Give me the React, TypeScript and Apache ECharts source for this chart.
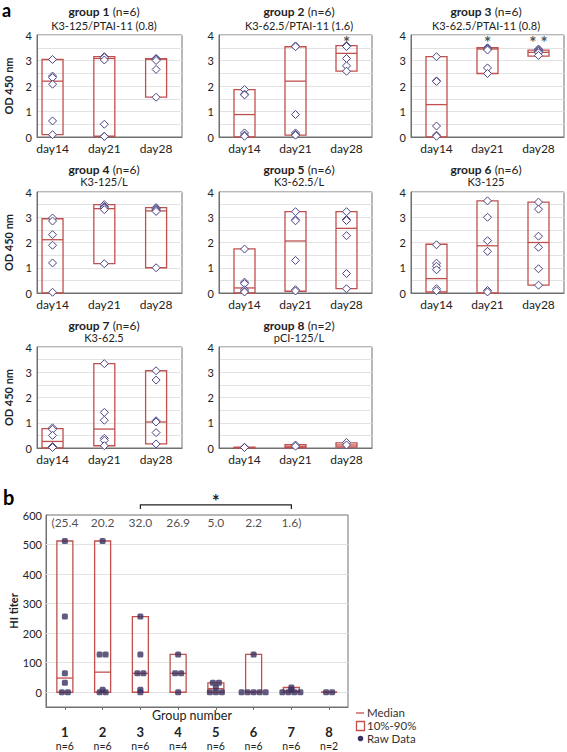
import React, { useEffect, useRef } from 'react';
import * as echarts from 'echarts';

// ---------------- DATA ----------------
const days = ['day14', 'day21', 'day28'];
const groupNames = ['group 1', 'group 2', 'group 3', 'group 4', 'group 5', 'group 6', 'group 7', 'group 8'];
const groupN = [6, 6, 6, 6, 6, 6, 6, 2];
const groupVaccines = [
  'K3-125/PTAI-11 (0.8)',
  'K3-62.5/PTAI-11 (1.6)',
  'K3-62.5/PTAI-11 (0.8)',
  'K3-125/L',
  'K3-62.5/L',
  'K3-125',
  'K3-62.5',
  'pCI-125/L',
];

// raw OD450 values per group, per day (day14, day21, day28)
const g1Points = [[3.04, 2.39, 2.33, 2.07, 0.63, 0.09], [3.15, 3.12, 3.02, 0.5, 0.03, 0.02], [3.08, 3.06, 3.05, 3.0, 2.65, 1.56]];
const g2Points = [[1.86, 1.68, 1.65, 0.16, 0.07, 0.03], [3.57, 3.54, 0.88, 0.16, 0.1, 0.07], [3.58, 3.56, 3.55, 3.08, 2.79, 2.58]];
const g3Points = [[3.15, 2.2, 2.18, 0.43, 0.07, 0.03], [3.5, 3.47, 3.45, 3.41, 2.71, 2.49], [3.45, 3.42, 3.38, 3.35, 3.3, 3.2]];
const g4Points = [[2.97, 2.85, 2.31, 1.89, 1.19, 0.03], [3.5, 3.43, 3.4, 3.37, 3.3, 1.16], [3.38, 3.35, 3.31, 3.28, 3.23, 1.0]];
const g5Points = [[1.74, 0.43, 0.37, 0.13, 0.07, 0.04], [3.22, 2.9, 2.86, 1.29, 0.13, 0.08], [3.22, 2.91, 2.87, 2.27, 0.77, 0.17]];
const g6Points = [[1.91, 1.18, 1.06, 0.92, 0.17, 0.09], [3.65, 3.0, 2.07, 1.65, 0.1, 0.04], [3.6, 3.32, 2.25, 1.81, 0.96, 0.31]];
const g7Points = [[0.8, 0.74, 0.5, 0.06, 0.04, 0.02], [3.34, 1.41, 1.1, 0.38, 0.3, 0.09], [3.06, 2.69, 1.08, 1.03, 0.61, 0.16]];
const g8Points = [[0.03, 0.02], [0.12, 0.07], [0.22, 0.12]];
const odPoints = [g1Points, g2Points, g3Points, g4Points, g5Points, g6Points, g7Points, g8Points];

// box statistics (10%, 90%, median) per group per day
const odP10 = [[0.09, 0.03, 1.56], [0, 0.07, 2.58], [0, 2.49, 3.17], [0, 1.16, 1.0], [0, 0.07, 0.17], [0.04, 0, 0.31], [0, 0.09, 0.16], [0, 0.01, 0.04]];
const odP90 = [[3.04, 3.15, 3.07], [1.86, 3.54, 3.58], [3.15, 3.5, 3.41], [2.94, 3.5, 3.38], [1.75, 3.22, 3.22], [1.93, 3.65, 3.6], [0.77, 3.34, 3.06], [0.03, 0.13, 0.2]];
const odMedian = [[2.19, 3.08, 3.05], [0.88, 2.19, 3.28], [1.27, 3.45, 3.32], [2.11, 3.34, 3.25], [0.2, 2.06, 2.56], [0.57, 1.87, 2.0], [0.26, 0.75, 1.03], [0.02, 0.07, 0.12]];

// significance marks (group index, day index, text)
const sigGroup = [1, 2, 2];
const sigDay = [2, 1, 2];
const sigText = ['*', '*', '* *'];
const sigLevel = 3.7;

// panel b : HI titer
const hiGroups = ['1', '2', '3', '4', '5', '6', '7', '8'];
const hiN = [6, 6, 6, 4, 6, 6, 6, 2];
const hiRaw = [
  [512, 256, 64, 32, 0, 0],
  [512, 128, 128, 8, 0, 0],
  [256, 128, 64, 64, 8, 0],
  [128, 64, 64, 0],
  [32, 32, 16, 0, 0, 0],
  [128, 0, 0, 0, 0, 0],
  [16, 8, 0, 0, 0, 0],
  [0, 0],
];
const hiP10 = [0, 0, 0, 0, 0, 0, 0, 0];
const hiP90 = [512, 512, 256, 128, 32, 128, 16, 0];
const hiMedian = [48, 68, 64, 64, 12, 0, 4, 0];
const hiGmt = [25.4, 20.2, 32.0, 26.9, 5.0, 2.2, 1.6];
const hiGmtLevel = 574;
const hiTicks = [0, 100, 200, 300, 400, 500, 600];
const hiBracketFrom = 2;
const hiBracketTo = 6;
const hiBracketLevel = 634;

// ---------------- STYLE / LAYOUT ----------------
const FONT = 'Lato, "Open Sans", sans-serif';
const TXT = '#222';
const AXIS = '#707070';
const GRIDC = '#e2e2e2';
const BOX = '#c0504d';
const DIAMOND = '#4b4383';
const DOT = '#3a3260';

const COL_LEFT = [37, 219, 411];
const COL_W = [145, 153, 153];
const X_MIN = [-0.3, -0.5, -0.5];
const ROW_TOP = [35, 192, 347];
const ROW_H = [102, 101, 101];
const TITLE_X = [104, 299, 486];
const TITLE_Y = [11, 169, 325];
const SUB_Y = [25, 181, 337];

function boxRender(width: number) {
  return (params: any, api: any) => {
    const x = api.value(0);
    const lo = api.coord([x, api.value(1)]);
    const hi = api.coord([x, api.value(2)]);
    const md = api.coord([x, api.value(3)]);
    return {
      type: 'group',
      children: [
        {
          type: 'rect',
          shape: { x: lo[0] - width / 2, y: hi[1], width, height: Math.max(lo[1] - hi[1], 0) },
          style: { fill: 'none', stroke: BOX, lineWidth: 1.3 },
        },
        {
          type: 'line',
          shape: { x1: md[0] - width / 2, y1: md[1], x2: md[0] + width / 2, y2: md[1] },
          style: { stroke: BOX, lineWidth: 1.3 },
        },
      ],
    };
  };
}

function buildOption() {
  const grids: any[] = [];
  const xAxes: any[] = [];
  const yAxes: any[] = [];
  const series: any[] = [];
  const graphics: any[] = [];

  for (let i = 0; i < 8; i++) {
    const col = i % 3;
    const row = Math.floor(i / 3);
    grids.push({
      left: COL_LEFT[col], top: ROW_TOP[row], width: COL_W[col], height: ROW_H[row],
      show: true, borderColor: AXIS, borderWidth: 1, backgroundColor: 'transparent',
    });
    xAxes.push({
      gridIndex: i, type: 'value', min: X_MIN[col], max: 2.5,
      axisLine: { show: true, onZero: false, lineStyle: { color: AXIS } },
      axisTick: { show: false },
      splitLine: { show: false },
      axisLabel: {
        customValues: [0, 1, 2],
        formatter: (v: number) => days[Math.round(v)] ?? '',
        fontFamily: FONT, fontSize: 12, color: TXT, margin: 5,
      },
    });
    yAxes.push({
      gridIndex: i, type: 'value', min: 0, max: 4, interval: 0.5,
      axisLine: { show: true, onZero: false, lineStyle: { color: AXIS } },
      axisTick: { show: false },
      axisLabel: {
        formatter: (v: number) => (Math.abs(v - Math.round(v)) < 1e-6 ? String(Math.round(v)) : ''),
        fontFamily: FONT, fontSize: 11, color: TXT, margin: 5,
      },
      splitLine: { show: true, lineStyle: { color: GRIDC, width: 1 } },
      name: col === 0 ? 'OD 450 nm' : '',
      nameLocation: 'middle', nameGap: 23, nameRotate: 90, nameMoveOverlap: false,
      nameTextStyle: { fontFamily: FONT, fontSize: 11, fontWeight: 'bold', color: TXT },
    });
    series.push({
      type: 'custom', coordinateSystem: 'cartesian2d', xAxisIndex: i, yAxisIndex: i,
      renderItem: boxRender(21),
      encode: { x: 0, y: [1, 2, 3] },
      data: days.map((_, d) => [d, odP10[i][d], odP90[i][d], odMedian[i][d]]),
      z: 3,
    });
    series.push({
      type: 'scatter', xAxisIndex: i, yAxisIndex: i,
      symbol: 'diamond', symbolSize: 8,
      itemStyle: { color: '#fff', borderColor: DIAMOND, borderWidth: 1, opacity: 1 },
      data: odPoints[i].flatMap((vals, d) => vals.map((v) => [d, v])),
      z: 5,
    });
    const sig = sigGroup.map((g, k) => ({ g, k })).filter((o) => o.g === i);
    if (sig.length) {
      series.push({
        type: 'scatter', xAxisIndex: i, yAxisIndex: i,
        symbolSize: 1, itemStyle: { color: 'rgba(0,0,0,0)' },
        label: {
          show: true, position: 'inside',
          formatter: (p: any) => p.data.txt,
          fontFamily: FONT, fontSize: 17, lineHeight: 17, fontWeight: 'bold', color: TXT,
        },
        data: sig.map((o) => ({ value: [sigDay[o.k], sigLevel], txt: sigText[o.k] })),
        z: 6,
      });
    }
    graphics.push({
      type: 'text', x: TITLE_X[col], y: TITLE_Y[row],
      style: {
        text: `{b|${groupNames[i]}} {r|(n=${groupN[i]})}`,
        rich: {
          b: { fontFamily: FONT, fontSize: 12, fontWeight: 'bold', fill: TXT, lineHeight: 13 },
          r: { fontFamily: FONT, fontSize: 12, fill: TXT, lineHeight: 13 },
        },
        align: 'center', verticalAlign: 'middle',
      },
    });
    graphics.push({
      type: 'text', x: TITLE_X[col], y: SUB_Y[row],
      style: {
        text: groupVaccines[i], fontFamily: FONT, fontSize: 11, lineHeight: 12, fill: TXT,
        align: 'center', verticalAlign: 'middle',
      },
    });
  }

  // ---------- panel b ----------
  const b = 8;
  grids.push({ left: 37, top: 515, width: 311, height: 192, show: true, borderColor: AXIS, borderWidth: 1, backgroundColor: 'transparent' });
  xAxes.push({
    gridIndex: b, type: 'category', data: hiGroups,
    axisLine: { show: true, onZero: false, lineStyle: { color: AXIS } },
    axisTick: { show: true, alignWithLabel: true, length: 3, lineStyle: { color: AXIS } },
    axisLabel: {
      interval: 0, margin: 18,
      fontFamily: FONT, fontSize: 13, fontWeight: 'bold', color: TXT, lineHeight: 13,
    },
  });
  // second bottom axis carrying the group sizes
  xAxes.push({
    gridIndex: b, type: 'category', data: hiGroups, position: 'bottom',
    axisLine: { show: false }, axisTick: { show: false }, splitLine: { show: false },
    axisLabel: {
      interval: 0, margin: 33,
      formatter: (v: string, idx: number) => `n=${hiN[idx]}`,
      fontFamily: FONT, fontSize: 10.5, color: TXT, lineHeight: 11,
    },
  });
  yAxes.push({
    gridIndex: b, type: 'value', min: -50, max: 600, interval: 50,
    axisLine: { show: true, onZero: false, lineStyle: { color: AXIS } },
    axisTick: { show: false },
    splitLine: { show: false },
    axisLabel: {
      formatter: (v: number) => (v >= 0 && v % 100 === 0 ? String(v) : ''),
      fontFamily: FONT, fontSize: 11, color: TXT, margin: 4,
    },
    name: 'HI titer', nameLocation: 'middle', nameGap: 27, nameRotate: 90, nameMoveOverlap: false,
    nameTextStyle: { fontFamily: FONT, fontSize: 11, fontWeight: 'bold', color: TXT },
  });
  series.push({
    type: 'custom', coordinateSystem: 'cartesian2d', xAxisIndex: b, yAxisIndex: b,
    renderItem: boxRender(16),
    encode: { x: 0, y: [1, 2, 3] },
    data: hiGroups.map((_, g) => [g, hiP10[g], hiP90[g], hiMedian[g]]),
    z: 3,
  });
  // raw data dots, equal values dodged side by side
  const dotData: any[] = [];
  hiRaw.forEach((vals, g) => {
    const counts: Record<number, number> = {};
    vals.forEach((v) => (counts[v] = (counts[v] || 0) + 1));
    const seen: Record<number, number> = {};
    vals.forEach((v) => {
      const k = seen[v] || 0;
      seen[v] = k + 1;
      const dx = (k - (counts[v] - 1) / 2) * 6;
      dotData.push({ value: [g, v], symbolOffset: [dx, 0] });
    });
  });
  series.push({
    type: 'scatter', xAxisIndex: b, yAxisIndex: b,
    symbol: 'roundRect', symbolSize: 6,
    itemStyle: { color: DOT },
    data: dotData, z: 5,
    markLine: {
      silent: true, symbol: 'none', label: { show: false },
      lineStyle: { color: GRIDC, type: 'solid', width: 1 },
      data: hiTicks.filter((t) => t < 600).map((t) => ({ yAxis: t })),
      z: 1,
    },
  });
  series.push({
    type: 'scatter', xAxisIndex: b, yAxisIndex: b,
    symbolSize: 1, itemStyle: { color: 'rgba(0,0,0,0)' },
    label: {
      show: true, position: 'inside', formatter: (p: any) => p.data.txt,
      fontFamily: FONT, fontSize: 12, color: TXT,
    },
    data: hiGmt.map((m, k) => ({
      value: [k, hiGmtLevel],
      txt: (k === 0 ? '(' : '') + m.toFixed(1) + (k === hiGmt.length - 1 ? ')' : ''),
    })),
    z: 6,
  });
  series.push({
    type: 'custom', coordinateSystem: 'cartesian2d', xAxisIndex: b, yAxisIndex: b,
    clip: false,
    renderItem: (params: any, api: any) => {
      const p1 = api.coord([api.value(0), api.value(2)]);
      const p2 = api.coord([api.value(1), api.value(2)]);
      return {
        type: 'group',
        children: [
          {
            type: 'polyline',
            shape: { points: [[p1[0], p1[1] + 4], [p1[0], p1[1]], [p2[0], p1[1]], [p2[0], p1[1] + 4]] },
            style: { stroke: TXT, fill: 'none', lineWidth: 1.2 },
          },
          {
            type: 'text', x: (p1[0] + p2[0]) / 2, y: p1[1] - 13,
            style: { text: '*', fontFamily: FONT, fontSize: 18, fontWeight: 'bold', fill: TXT, align: 'center', verticalAlign: 'top' },
          },
        ],
      };
    },
    data: [[hiBracketFrom, hiBracketTo, hiBracketLevel]],
    z: 6,
  });

  // x-axis title of panel b
  graphics.push({
    type: 'text', x: 192, y: 715.5,
    style: { text: 'Group number', fontFamily: FONT, fontSize: 12.5, lineHeight: 13, fill: TXT, align: 'center', verticalAlign: 'middle' },
  });

  // panel letters
  graphics.push({ type: 'text', x: 2, y: 10, style: { text: 'a', fontFamily: FONT, fontSize: 18, lineHeight: 18, fontWeight: 'bold', fill: '#000', verticalAlign: 'middle' } });
  graphics.push({ type: 'text', x: 3, y: 497, style: { text: 'b', fontFamily: FONT, fontSize: 20, lineHeight: 20, fontWeight: 'bold', fill: '#000', verticalAlign: 'middle' } });

  // legend
  graphics.push({ type: 'line', shape: { x1: 356, y1: 713, x2: 364, y2: 713 }, style: { stroke: BOX, lineWidth: 1.3 } });
  graphics.push({ type: 'rect', shape: { x: 356.5, y: 721.5, width: 8, height: 9 }, style: { fill: 'none', stroke: BOX, lineWidth: 1.3 } });
  graphics.push({ type: 'circle', shape: { cx: 360.5, cy: 738.5, r: 2.8 }, style: { fill: DOT } });
  const legendTexts = ['Median', '10%-90%', 'Raw Data'];
  const legendY = [712.5, 725.5, 738.5];
  legendTexts.forEach((t, k) => {
    graphics.push({ type: 'text', x: 367, y: legendY[k], style: { text: t, fontFamily: FONT, fontSize: 11.5, lineHeight: 12, fill: '#333', verticalAlign: 'middle' } });
  });

  return {
    animation: false,
    backgroundColor: '#fff',
    grid: grids,
    xAxis: xAxes,
    yAxis: yAxes,
    series,
    graphic: graphics,
  };
}

export default function App() {
  const ref = useRef<HTMLDivElement>(null);
  useEffect(() => {
    if (!ref.current) return;
    const chart = echarts.init(ref.current, null, { renderer: 'svg' });
    chart.setOption(buildOption() as any);
    return () => chart.dispose();
  }, []);
  return (
    <div
      ref={ref}
      style={{ position: 'fixed', left: 0, top: 0, width: 567, height: 752, background: '#fff' }}
    />
  );
}
